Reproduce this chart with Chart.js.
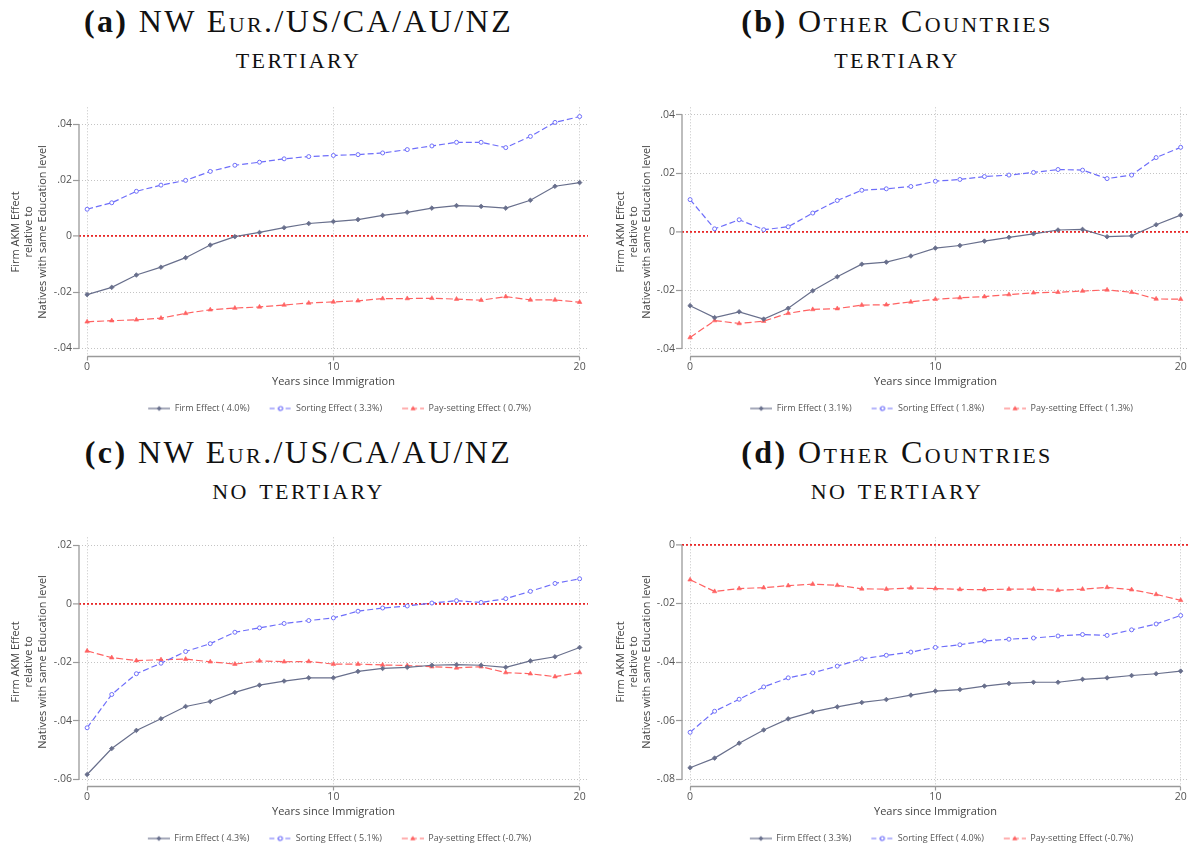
<!DOCTYPE html>
<html>
<head>
<meta charset="utf-8">
<script src="https://cdn.jsdelivr.net/npm/chart.js@4.4.0/dist/chart.umd.min.js"></script>
<style>
  body { margin: 0; background: #fff; width: 1194px; height: 853px; position: relative; overflow: hidden; }
  .ttl { position: absolute; text-align: center; font-family: "Liberation Serif", serif; font-size: 32px;
         line-height: 36px; color: #111; letter-spacing: 2.4px; white-space: nowrap; }
  .sc { font-variant: small-caps; }
  canvas { position: absolute; }
</style>
</head>
<body>
<div class="ttl" style="left:0;width:597px;top:3px"><b>(a)</b> NW <span class="sc">Eur.</span>/US/CA/AU/NZ<br><span class="sc">tertiary</span></div>
<div class="ttl" style="left:600px;width:594px;top:3px"><b>(b)</b> <span class="sc">Other Countries</span><br><span class="sc">tertiary</span></div>
<div class="ttl" style="left:0;width:597px;top:434px"><b>(c)</b> NW <span class="sc">Eur.</span>/US/CA/AU/NZ<br><span class="sc">no tertiary</span></div>
<div class="ttl" style="left:600px;width:594px;top:434px"><b>(d)</b> <span class="sc">Other Countries</span><br><span class="sc">no tertiary</span></div>

<canvas id="chartA" width="597" height="330" style="left:0;top:100px"></canvas>
<canvas id="chartB" width="594" height="330" style="left:600px;top:100px"></canvas>
<canvas id="chartC" width="597" height="330" style="left:0;top:530px"></canvas>
<canvas id="chartD" width="594" height="330" style="left:600px;top:530px"></canvas>

<script>
// years since immigration
const years = [0, 1, 2, 3, 4, 5, 6, 7, 8, 9, 10, 11, 12, 13, 14, 15, 16, 17, 18, 19, 20];
const xTicks = [0, 10, 20];

// (a) NW Eur./US/CA/AU/NZ - tertiary
const firmA = [-0.0208, -0.0182, -0.0138, -0.0110, -0.0076, -0.0031, -0.0001, 0.0014, 0.0031, 0.0046, 0.0053, 0.0060, 0.0075, 0.0086, 0.0101, 0.0110, 0.0107, 0.0101, 0.0129, 0.0179, 0.0192];
const sortA = [0.0097, 0.0120, 0.0161, 0.0183, 0.0200, 0.0232, 0.0254, 0.0265, 0.0277, 0.0285, 0.0289, 0.0292, 0.0298, 0.0310, 0.0323, 0.0336, 0.0336, 0.0317, 0.0357, 0.0407, 0.0428];
const payA = [-0.0305, -0.0301, -0.0298, -0.0292, -0.0275, -0.0262, -0.0256, -0.0252, -0.0245, -0.0238, -0.0234, -0.0230, -0.0222, -0.0222, -0.0221, -0.0224, -0.0228, -0.0215, -0.0227, -0.0227, -0.0235];
const legendA = ['Firm Effect ( 4.0%)', 'Sorting Effect ( 3.3%)', 'Pay-setting Effect ( 0.7%)'];
const yTicksA = [-0.04, -0.02, 0, 0.02, 0.04];

// (b) Other countries - tertiary
const firmB = [-0.0253, -0.0294, -0.0274, -0.0299, -0.0262, -0.0202, -0.0154, -0.0111, -0.0104, -0.0083, -0.0056, -0.0047, -0.0032, -0.0019, -0.0007, 0.0006, 0.0008, -0.0017, -0.0014, 0.0024, 0.0057];
const sortB = [0.0110, 0.0010, 0.0041, 0.0007, 0.0017, 0.0064, 0.0107, 0.0142, 0.0147, 0.0155, 0.0173, 0.0179, 0.0189, 0.0194, 0.0203, 0.0213, 0.0211, 0.0182, 0.0194, 0.0254, 0.0289];
const payB = [-0.0362, -0.0304, -0.0314, -0.0306, -0.0279, -0.0266, -0.0263, -0.0251, -0.0250, -0.0240, -0.0231, -0.0226, -0.0222, -0.0215, -0.0209, -0.0207, -0.0203, -0.0199, -0.0207, -0.0230, -0.0231];
const legendB = ['Firm Effect ( 3.1%)', 'Sorting Effect ( 1.8%)', 'Pay-setting Effect ( 1.3%)'];
const yTicksB = [-0.04, -0.02, 0, 0.02, 0.04];

// (c) NW Eur./US/CA/AU/NZ - no tertiary
const firmC = [-0.0584, -0.0495, -0.0433, -0.0393, -0.0351, -0.0334, -0.0303, -0.0278, -0.0264, -0.0253, -0.0253, -0.0231, -0.0221, -0.0217, -0.0210, -0.0208, -0.0210, -0.0217, -0.0195, -0.0181, -0.0149];
const sortC = [-0.0424, -0.0310, -0.0239, -0.0203, -0.0163, -0.0136, -0.0097, -0.0082, -0.0067, -0.0057, -0.0048, -0.0025, -0.0014, -0.0007, 0.0003, 0.0011, 0.0005, 0.0018, 0.0043, 0.0070, 0.0086];
const payC = [-0.0161, -0.0184, -0.0194, -0.0191, -0.0189, -0.0198, -0.0206, -0.0195, -0.0198, -0.0197, -0.0206, -0.0206, -0.0209, -0.0211, -0.0215, -0.0219, -0.0215, -0.0235, -0.0239, -0.0249, -0.0235];
const legendC = ['Firm Effect ( 4.3%)', 'Sorting Effect ( 5.1%)', 'Pay-setting Effect (-0.7%)'];
const yTicksC = [-0.06, -0.04, -0.02, 0, 0.02];

// (d) Other countries - no tertiary
const firmD = [-0.0761, -0.0728, -0.0677, -0.0632, -0.0594, -0.0570, -0.0553, -0.0538, -0.0528, -0.0513, -0.0499, -0.0494, -0.0482, -0.0473, -0.0469, -0.0469, -0.0459, -0.0454, -0.0446, -0.0440, -0.0431];
const sortD = [-0.0640, -0.0568, -0.0527, -0.0485, -0.0454, -0.0437, -0.0414, -0.0389, -0.0377, -0.0366, -0.0350, -0.0341, -0.0328, -0.0322, -0.0318, -0.0311, -0.0306, -0.0309, -0.0290, -0.0270, -0.0241];
const payD = [-0.0119, -0.0159, -0.0149, -0.0146, -0.0139, -0.0134, -0.0138, -0.0150, -0.0151, -0.0147, -0.0149, -0.0152, -0.0153, -0.0151, -0.0151, -0.0155, -0.0151, -0.0145, -0.0153, -0.0169, -0.0189];
const legendD = ['Firm Effect ( 3.3%)', 'Sorting Effect ( 4.0%)', 'Pay-setting Effect (-0.7%)'];
const yTicksD = [-0.08, -0.06, -0.04, -0.02, 0];

const FIRM_COL = 'rgb(104,111,140)';
const SORT_COL = 'rgb(110,110,250)';
const PAY_COL = 'rgb(255,98,98)';
const ZERO_COL = 'rgb(232,40,40)';
const GRID_COL = 'rgba(190,190,190,0.9)';
const AXIS_COL = '#9a9a9a';
const TXT_COL = '#555';
const FONT = '"Open Sans", sans-serif';

// small line+marker swatch for the legend
function legendIcon(color, dash, marker) {
  const c = document.createElement('canvas');
  c.width = 34; c.height = 10;
  const g = c.getContext('2d');
  g.strokeStyle = color; g.fillStyle = color; g.lineWidth = 1.2;
  g.setLineDash(dash);
  g.beginPath(); g.moveTo(12, 5); g.lineTo(34, 5); g.stroke();
  g.setLineDash([]);
  const cx = 23, cy = 5;
  g.beginPath();
  if (marker === 'diamond') {
    g.moveTo(cx, cy - 2.5); g.lineTo(cx + 2.5, cy); g.lineTo(cx, cy + 2.5); g.lineTo(cx - 2.5, cy); g.closePath(); g.fill();
  } else if (marker === 'circle') {
    g.fillStyle = '#fff'; g.arc(cx, cy, 2, 0, Math.PI * 2); g.fill(); g.stroke();
  } else {
    g.moveTo(cx, cy - 2.8); g.lineTo(cx + 2.6, cy + 1.8); g.lineTo(cx - 2.6, cy + 1.8); g.closePath(); g.fill();
  }
  return c;
}
const icons = [
  legendIcon(FIRM_COL, [], 'diamond'),
  legendIcon(SORT_COL, [5, 3], 'circle'),
  legendIcon(PAY_COL, [6, 3], 'triangle')
];

// axis lines spanning only the tick range, offset from each other
const stataAxes = {
  id: 'stataAxes',
  beforeDatasetsDraw(chart) {
    const { ctx, chartArea, scales: { x, y } } = chart;
    const yv = y.ticks.map(t => t.value);
    const xv = x.ticks.map(t => t.value);
    ctx.save();
    ctx.strokeStyle = AXIS_COL;
    ctx.lineWidth = 1.3;
    ctx.beginPath();
    ctx.moveTo(chartArea.left, y.getPixelForValue(Math.max(...yv)));
    ctx.lineTo(chartArea.left, y.getPixelForValue(Math.min(...yv)));
    ctx.moveTo(x.getPixelForValue(Math.min(...xv)), chartArea.bottom);
    ctx.lineTo(x.getPixelForValue(Math.max(...xv)), chartArea.bottom);
    ctx.stroke();
    ctx.restore();
  }
};

function fmtTick(v) {
  if (Math.abs(v) < 1e-9) return '0';
  return v.toFixed(2).replace('0.', '.');
}

function pts(vals) {
  return years.map((yr, i) => ({ x: yr, y: vals[i] }));
}

function drawPanel(id, p) {
  new Chart(document.getElementById(id), {
    type: 'line',
    data: {
      datasets: [
        { label: p.legend[0], data: pts(p.firm), borderColor: FIRM_COL, backgroundColor: FIRM_COL,
          borderWidth: 1.2, pointStyle: 'rectRot', pointRadius: 2.3, pointBorderWidth: 0.8 },
        { label: p.legend[1], data: pts(p.sort), borderColor: SORT_COL, backgroundColor: '#fff',
          borderWidth: 1.2, borderDash: [6, 3], pointStyle: 'circle', pointRadius: 2, pointBorderWidth: 1 },
        { label: p.legend[2], data: pts(p.pay), borderColor: PAY_COL, backgroundColor: PAY_COL,
          borderWidth: 1.2, borderDash: [7, 3], pointStyle: 'triangle', pointRadius: 2.6, pointBorderWidth: 0.6 }
      ]
    },
    options: {
      responsive: false,
      animation: false,
      layout: { padding: { top: p.padTop, right: p.padRight, bottom: 7, left: 0 } },
      scales: {
        x: {
          type: 'linear', min: -0.33, max: 20.34,
          afterBuildTicks: s => { s.ticks = xTicks.map(v => ({ value: v })); },
          afterFit: s => { s.height = 39.5; },
          border: { display: false, dash: [1, 2] },
          grid: { color: GRID_COL, lineWidth: 1, tickColor: AXIS_COL, tickLength: 4, tickWidth: 1.2 },
          ticks: { color: TXT_COL, padding: 0, maxRotation: 0, font: { family: FONT, size: 10.5 } },
          title: { display: true, text: 'Years since Immigration', color: '#444',
                   padding: { top: 0, bottom: 8 }, font: { family: FONT, size: 11 } }
        },
        y: {
          min: p.yMin, max: p.yMax,
          afterBuildTicks: s => { s.ticks = p.yTicks.map(v => ({ value: v })); },
          afterFit: s => { s.width = p.yWidth; },
          border: { display: false, dash: c => (c.tick && c.tick.value === 0) ? [2, 2] : [1, 2] },
          grid: {
            color: c => (c.tick && c.tick.value === 0) ? ZERO_COL : GRID_COL,
            lineWidth: c => (c.tick && c.tick.value === 0) ? 1.8 : 1,
            tickColor: AXIS_COL, tickLength: 6, tickWidth: 1.2
          },
          ticks: { color: TXT_COL, padding: 1, callback: v => fmtTick(v), font: { family: FONT, size: 10.5 } },
          title: { display: true, text: ['Firm AKM Effect', 'relative to', 'Natives with same Education level'],
                   color: '#444', padding: { top: p.titlePad, bottom: 0 }, font: { family: FONT, size: 11 } }
        }
      },
      plugins: {
        tooltip: { enabled: false },
        legend: {
          position: 'bottom', fullSize: false,
          labels: {
            usePointStyle: true, pointStyleWidth: 34, padding: 8, color: TXT_COL,
            font: { family: FONT, size: 9 },
            generateLabels: chart => {
              const items = Chart.defaults.plugins.legend.labels.generateLabels(chart);
              items.forEach((it, i) => { it.pointStyle = icons[i]; });
              return items;
            }
          }
        }
      }
    },
    plugins: [stataAxes]
  });
}

drawPanel('chartA', { firm: firmA, sort: sortA, pay: payA, legend: legendA, yTicks: yTicksA,
  yMin: -0.0429, yMax: 0.0461, padTop: 5, padRight: 9, yWidth: 79, titlePad: 9.5 });
drawPanel('chartB', { firm: firmB, sort: sortB, pay: payB, legend: legendB, yTicks: yTicksB,
  yMin: -0.0427, yMax: 0.0426, padTop: 7, padRight: 0, yWidth: 82, titlePad: 14 });
drawPanel('chartC', { firm: firmC, sort: sortC, pay: payC, legend: legendC, yTicks: yTicksC,
  yMin: -0.0625, yMax: 0.0228, padTop: 7, padRight: 9, yWidth: 79, titlePad: 9.5 });
drawPanel('chartD', { firm: firmD, sort: sortD, pay: payD, legend: legendD, yTicks: yTicksD,
  yMin: -0.0825, yMax: 0.0026, padTop: 7, padRight: 0, yWidth: 82, titlePad: 14 });
</script>
</body>
</html>
